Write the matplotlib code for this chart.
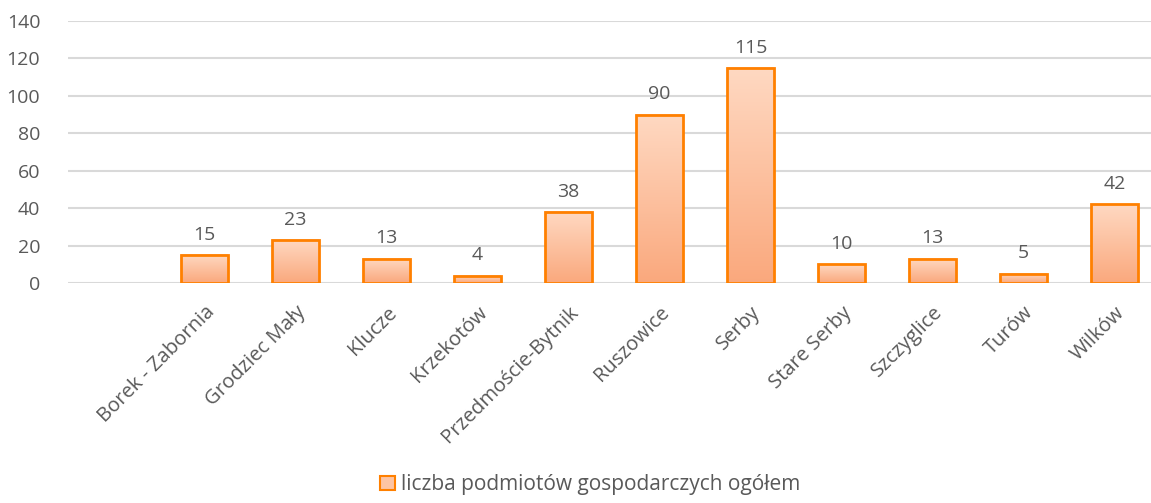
import numpy as np
import matplotlib.pyplot as plt
from matplotlib.patches import Rectangle

plt.rcParams['font.family'] = ['Open Sans', 'DejaVu Sans']

categories = ["", "Borek - Zabornia", "Grodziec Mały", "Klucze", "Krzekotów",
              "Przedmoście-Bytnik", "Ruszowice", "Serby", "Stare Serby",
              "Szczyglice", "Turów", "Wilków"]
values = [0, 15, 23, 13, 4, 38, 90, 115, 10, 13, 5, 42]
series_name = "liczba podmiotów gospodarczych ogółem"

gray = "#595959"
edge = "#FF8000"
top_c = np.array([1.0, 0.85, 0.76])
bot_c = np.array([0.98, 0.66, 0.49])

fig = plt.figure(figsize=(11.51, 5.03), dpi=100)
ax = fig.add_axes([68 / 1151, 1 - 283 / 503, (1151 - 68) / 1151, 262 / 503])

x = np.arange(len(categories))
bars = ax.bar(x, values, width=0.51, color="none", edgecolor=edge, linewidth=2, zorder=3)

# vertical gradient inside each bar
grad = np.linspace(0, 1, 100)[:, None, None]
img = top_c * (1 - grad) + bot_c * grad
for b, v in zip(bars, values):
    if v == 0:
        b.set_visible(False)
        continue
    x0, w, h = b.get_x(), b.get_width(), b.get_height()
    ax.imshow(img, extent=(x0, x0 + w, 0, h), aspect="auto", zorder=2, origin="upper")
    ax.text(x0 + w / 2, h + 6, str(v), ha="center", va="bottom", color=gray, fontsize=14)

ax.set_xlim(-0.5, 11.4)
ax.set_ylim(0, 140)
ax.set_yticks(range(0, 141, 20))
ax.yaxis.grid(True, color="#D9D9D9", linewidth=1.5, zorder=0)
ax.set_axisbelow(True)
for s in ax.spines.values():
    s.set_visible(False)
ax.tick_params(length=0, colors=gray, labelsize=14)
ax.tick_params(axis="y", pad=20)
ax.tick_params(axis="x", pad=14, labelsize=14.5)
ax.set_xticks(x)
ax.set_xticklabels(categories, rotation=45, ha="right", rotation_mode="anchor")

leg_patch = Rectangle((0, 0), 1, 1, facecolor="#FDC4A4", edgecolor=edge, linewidth=1.5)
fig.legend([leg_patch], [series_name], loc="lower center", bbox_to_anchor=(0.513, -0.022),
           frameon=False, fontsize=15, labelcolor=gray, handlelength=0.7, handleheight=0.7,
           handletextpad=0.3)

fig.savefig("out.png", dpi=100)
